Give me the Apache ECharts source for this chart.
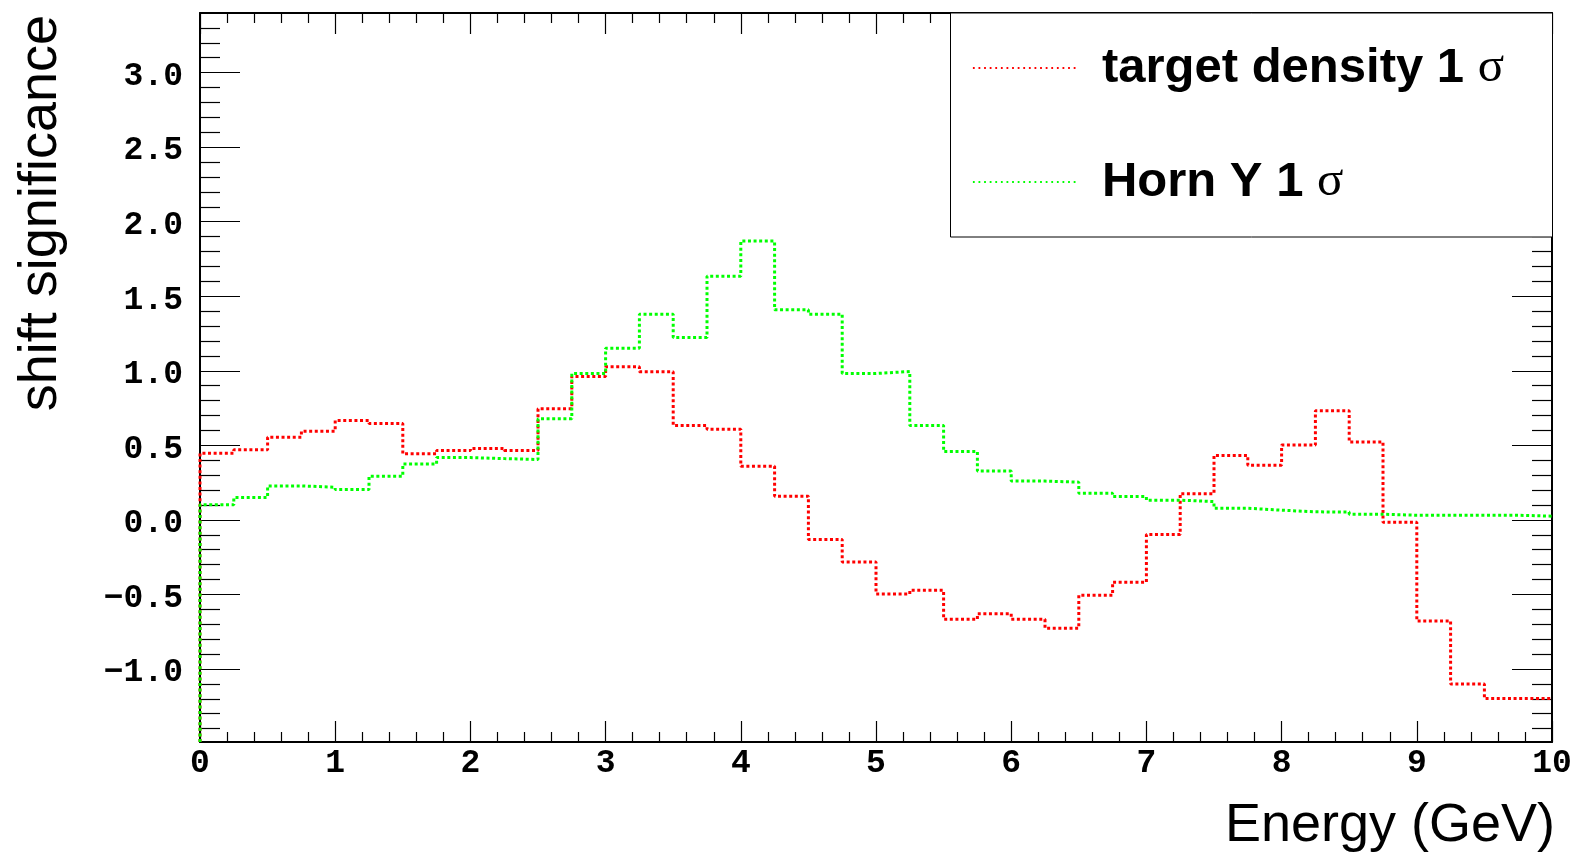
<!DOCTYPE html>
<html>
<head>
<meta charset="utf-8">
<title>shift significance vs Energy</title>
<script src="https://cdn.jsdelivr.net/npm/echarts@6/dist/echarts.min.js"></script>
<style>
  html, body { margin: 0; padding: 0; background: #fff; }
  #chart { width: 1580px; height: 852px; }
</style>
</head>
<body>
<div id="chart"></div>
<script>
// Histogram binning: 40 bins of 0.25 GeV from 0 to 10 GeV
const binWidth = 0.25;
const xMin = 0, xMax = 10;
const yMin = -1.49, yMax = 3.4;

// Bin contents (shift significance per energy bin)
const targetDensity = [
  0.447, 0.470, 0.555, 0.595, 0.667, 0.647, 0.443, 0.465, 0.479, 0.465,
  0.745, 0.962, 1.027, 0.993, 0.633, 0.608, 0.360, 0.159, -0.131, -0.282,
  -0.497, -0.472, -0.667, -0.629, -0.667, -0.727, -0.506, -0.418, -0.098, 0.176,
  0.432, 0.367, 0.502, 0.732, 0.523, -0.016, -0.678, -1.101, -1.199, -1.199
];
const hornY = [
  0.101, 0.150, 0.228, 0.219, 0.204, 0.293, 0.374, 0.418, 0.411, 0.405,
  0.678, 0.982, 1.152, 1.380, 1.224, 1.635, 1.870, 1.409, 1.380, 0.982,
  0.995, 0.633, 0.458, 0.327, 0.260, 0.253, 0.179, 0.157, 0.132, 0.123,
  0.078, 0.065, 0.054, 0.052, 0.038, 0.031, 0.031, 0.031, 0.031, 0.025
];

const seriesNames = ['target density 1 σ', 'Horn Y 1 σ'];
const seriesColors = ['#ff0000', '#00ff00'];

// Axis ticks
const yMajorTicks = [-1.0, -0.5, 0.0, 0.5, 1.0, 1.5, 2.0, 2.5, 3.0];
const yMinorTicks = [];
for (let k = -14; k <= 33; k++) {
  if (k % 5 !== 0) yMinorTicks.push(k / 10);
}

// Outline of a histogram: rises from the frame bottom, then steps over each bin
function histOutline(values) {
  const pts = [[xMin, yMin]];
  values.forEach((v, i) => pts.push([xMin + i * binWidth, v]));
  pts.push([xMax, values[values.length - 1]]);
  return pts;
}

const tickFont = {
  fontFamily: '"Liberation Mono", "DejaVu Sans Mono", monospace',
  fontWeight: 'bold',
  fontSize: 33,
  color: '#000'
};

// y tick text, set slightly below the tick through a padded rich token
const fmtTick = v => {
  const s = Number(v).toFixed(1);
  return '{v|' + s.replace('-', '\u2212') + '}';
};

const frameLine = { show: true, onZero: false, lineStyle: { color: '#000', width: 2 } };
const noLine = { show: false, onZero: false };

function yAxisDef(position, ticks, len, withLabels, withLine) {
  return {
    type: 'value',
    position: position,
    min: yMin,
    max: yMax,
    axisLine: withLine ? frameLine : noLine,
    splitLine: { show: false },
    axisTick: {
      show: true,
      inside: true,
      length: len,
      customValues: ticks,
      lineStyle: { color: '#000', width: 1.2 }
    },
    axisLabel: withLabels ? Object.assign({
      show: true,
      customValues: yMajorTicks,
      formatter: fmtTick,
      margin: 17,
      rich: {
        v: Object.assign({ padding: [8, 0, 0, 0] }, tickFont)
      }
    }, tickFont) : { show: false }
  };
}

function xAxisDef(position, withLabels) {
  return {
    type: 'value',
    position: position,
    min: xMin,
    max: xMax,
    interval: 1,
    axisLine: frameLine,
    splitLine: { show: false },
    axisTick: { show: true, inside: true, length: 21, lineStyle: { color: '#000', width: 1.2 } },
    minorTick: { show: true, splitNumber: 5, length: 10, lineStyle: { color: '#000', width: 1.2 } },
    minorSplitLine: { show: false },
    axisLabel: withLabels ? Object.assign({
      show: true,
      margin: 5,
      showMinLabel: true,
      showMaxLabel: true,
      formatter: v => String(v)
    }, tickFont) : { show: false }
  };
}

const chart = echarts.init(document.getElementById('chart'), null, { renderer: 'canvas' });

chart.setOption({
  animation: false,
  backgroundColor: '#fff',
  grid: { left: 200, right: 28, top: 13, bottom: 110, containLabel: false },
  xAxis: [xAxisDef('bottom', true), xAxisDef('top', false)],
  yAxis: [
    yAxisDef('left', yMajorTicks, 40, true, true),
    yAxisDef('left', yMinorTicks, 20, false, false),
    yAxisDef('right', yMajorTicks, 40, false, true),
    yAxisDef('right', yMinorTicks, 20, false, false)
  ],
  legend: {
    orient: 'vertical',
    left: 972,
    top: 43,
    padding: 0,
    itemWidth: 104,
    itemHeight: 50,
    itemGap: 64,
    z: 5,
    data: seriesNames,
    lineStyle: { width: 1.8, type: [1.8, 3.8] },
    itemStyle: { color: 'rgba(0,0,0,0)', borderWidth: 0, opacity: 0 },
    formatter: name => name.replace('σ', '{s|σ}'),
    textStyle: {
      fontFamily: '"Liberation Sans", Arial, sans-serif',
      fontWeight: 'bold',
      fontSize: 49,
      lineHeight: 50,
      color: '#000',
      padding: [0, 0, 0, 20],
      rich: {
        s: {
          fontFamily: '"Liberation Serif", "Times New Roman", serif',
          fontWeight: 'normal',
          fontSize: 49,
          lineHeight: 50,
          color: '#000'
        }
      }
    }
  },
  graphic: [
    {
      type: 'rect',
      z: 3,
      shape: { x: 950.5, y: 13, width: 602, height: 224 },
      style: { fill: '#fff', stroke: '#000', lineWidth: 1 }
    },
    {
      type: 'text',
      x: 1555,
      y: 826,
      style: {
        text: 'Energy (GeV)',
        fontFamily: '"Liberation Sans", Arial, sans-serif',
        fontSize: 54,
        fill: '#000',
        align: 'right',
        verticalAlign: 'middle'
      }
    },
    {
      type: 'text',
      x: 41,
      y: 15,
      rotation: Math.PI / 2,
      style: {
        text: 'shift significance',
        fontFamily: '"Liberation Sans", Arial, sans-serif',
        fontSize: 54,
        fill: '#000',
        align: 'right',
        verticalAlign: 'middle'
      }
    }
  ],
  series: [targetDensity, hornY].map((vals, i) => ({
    name: seriesNames[i],
    type: 'line',
    step: 'end',
    xAxisIndex: 0,
    yAxisIndex: 0,
    symbol: 'none',
    clip: false,
    z: 3,
    color: seriesColors[i],
    lineStyle: { color: seriesColors[i], width: 3, type: [3, 2.6] },
    data: histOutline(vals)
  }))
});
</script>
</body>
</html>
